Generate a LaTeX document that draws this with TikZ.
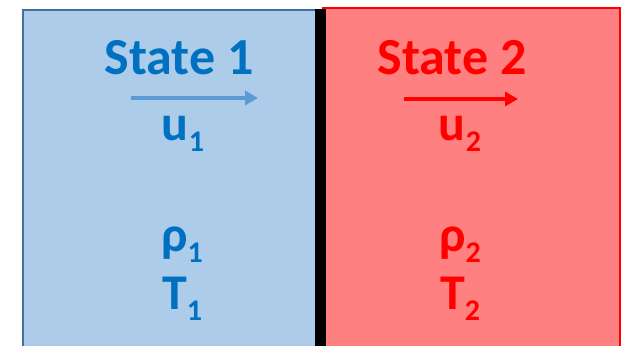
\documentclass[tikz,border=0pt]{standalone}
\usepackage{fontspec}
\setmainfont{Carlito}
\usetikzlibrary{arrows.meta}

\definecolor{boxblue}{RGB}{173,204,234}
\definecolor{edgeblue}{RGB}{65,113,156}
\definecolor{textblue}{RGB}{0,112,192}
\definecolor{arrowblue}{RGB}{91,155,213}
\definecolor{boxred}{RGB}{255,128,128}

\newcommand{\lowsub}[1]{\raisebox{-11pt}{\fontsize{30}{30}\selectfont #1}}

\begin{document}
\begin{tikzpicture}[x=1pt, y=1pt,
    label text/.style={anchor=base, inner sep=0pt, font=\fontsize{50}{61}\selectfont\bfseries},
    title text/.style={label text, font=\fontsize{52}{61}\selectfont\bfseries},
    flow arrow/.style={line width=3.5pt, -{Triangle[length=13pt, width=14pt]}}]
    \useasboundingbox (0, 0) rectangle (628, 345);
    \clip (0, 0) rectangle (628, 345);

    % the two states
    \draw[line width=2.5pt, draw=edgeblue, fill=boxblue] (23, -10) rectangle (316, 335);
    \draw[line width=2pt, draw=red, fill=boxred] (323, -10) rectangle (620, 337);

    % interface
    \coordinate (W1) at (320.5, 335.5);
    \coordinate (W2) at (320.5, -10);
    \draw[line width=11pt, black] (W1) -- (W2);

    \begin{scope}[text=textblue]
        \node [title text] (S1) at (179, 270) {State 1};
        \node [label text] (U1) at (183, 204) {u\lowsub{1}};
        \node [label text] (R1) at (182, 93) {ρ\lowsub{1}};
        \node [label text] (T1) at (182, 36) {T\lowsub{1}};
        \coordinate (A1) at (131, 247);
        \coordinate (B1) at (258, 247);
        \draw[flow arrow, arrowblue] (A1) -- (B1);
    \end{scope}

    \begin{scope}[text=red]
        \node [title text] (S2) at (452, 270) {State 2};
        \node [label text] (U2) at (460, 204) {u\lowsub{2}};
        \node [label text] (R2) at (460, 93) {ρ\lowsub{2}};
        \node [label text] (T2) at (460, 36) {T\lowsub{2}};
        \coordinate (A2) at (404, 246);
        \coordinate (B2) at (518, 246);
        \draw[flow arrow, red] (A2) -- (B2);
    \end{scope}
\end{tikzpicture}
\end{document}
